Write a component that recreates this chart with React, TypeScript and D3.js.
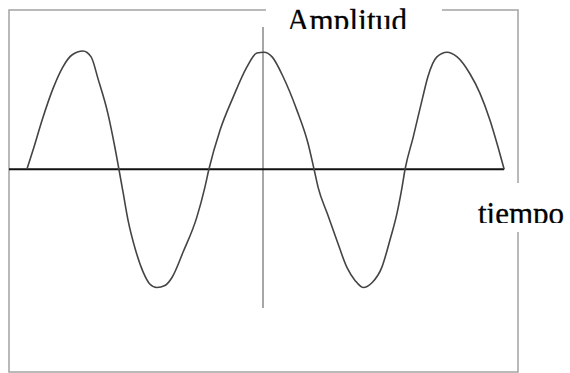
import React from "react";
import * as d3 from "d3";

// tiempo in degrees (vertical axis at 0), amplitud normalized
const tiempo = [
  -467, -455, -437, -415, -396, -378, -356, -340, -326, -307, -293, -285,
  -277, -267, -253, -237, -224, -210, -194, -180, -158, -131, -115, -107,
  -85, -59, -32, -12, 2, 18, 40, 67, 89, 101,
  109, 127, 146, 166, 182, 198, 216, 235, 251, 265, 275, 281,
  297, 316, 326, 344, 364, 384, 409, 429, 449, 465, 477,
];
const amplitud = [
  0, 0.16, 0.415, 0.686, 0.864, 0.966, 1.0, 0.95, 0.76, 0.475, 0.186, 0,
  -0.19, -0.43, -0.67, -0.87, -0.97, -1.0, -0.983, -0.915, -0.7, -0.407, -0.153, 0,
  0.33, 0.61, 0.864, 0.983, 0.99, 0.95, 0.78, 0.5, 0.22, 0,
  -0.153, -0.373, -0.6, -0.83, -0.94, -1.0, -0.958, -0.83, -0.6, -0.373, -0.153, 0,
  0.27, 0.61, 0.78, 0.95, 0.99, 0.95, 0.81, 0.644, 0.415, 0.186, 0,
];
const yLabel = "Amplitud";
const xLabel = "tiempo";

const W = 570;
const H = 373;

export default function App() {
  const x = d3.scaleLinear().domain([-360, 360]).range([81, 445]);
  const y = d3.scaleLinear().domain([-1, 1]).range([287.5, 51]);
  const pts = tiempo.map((t, i) => [t, amplitud[i]] as [number, number]);
  const line = d3
    .line<[number, number]>()
    .x((d) => x(d[0]))
    .y((d) => y(d[1]))
    .curve(d3.curveMonotoneX);

  const y0 = y(0);
  const x0 = x(0);
  const textStyle: React.CSSProperties = {
    fontFamily: '"Liberation Serif", "Times New Roman", Times, serif',
    fontSize: "31px",
  };
  return (
    <svg
      width={W}
      height={H}
      style={{ position: "absolute", left: 0, top: 0, background: "#fff" }}
    >
      <defs>
        <clipPath id="clipA">
          <rect x={266} y={0} width={176} height={29} />
        </clipPath>
        <clipPath id="clipT">
          <rect x={470} y={183} width={100} height={40} />
        </clipPath>
      </defs>
      <rect x={0} y={0} width={W} height={H} fill="#fff" />
      {/* frame */}
      <rect
        x={9}
        y={10}
        width={509}
        height={362}
        fill="none"
        stroke="#a8a8a8"
        strokeWidth={1.6}
      />
      {/* label boxes cover the frame */}
      <rect x={266} y={0} width={176} height={27} fill="#fff" />
      <rect x={470} y={183} width={100} height={49} fill="#fff" />
      {/* vertical axis */}
      <line
        x1={x0}
        x2={x0}
        y1={27}
        y2={308}
        stroke="#777"
        strokeWidth={1.3}
      />
      {/* horizontal axis */}
      <line
        x1={9}
        x2={x(477)}
        y1={y0}
        y2={y0}
        stroke="#111"
        strokeWidth={1.8}
      />
      {/* wave */}
      <path
        d={line(pts) || ""}
        fill="none"
        stroke="#444"
        strokeWidth={1.6}
      />
      <text
        x={287}
        y={30.5}
        clipPath="url(#clipA)"
        style={textStyle}
        fill="#000"
        stroke="#000"
        strokeWidth={0.3}
        textLength={120}
      >
        {yLabel}
      </text>
      <text
        x={478}
        y={224}
        clipPath="url(#clipT)"
        style={textStyle}
        fill="#000"
        stroke="#000"
        strokeWidth={0.3}
      >
        {xLabel}
      </text>
    </svg>
  );
}
